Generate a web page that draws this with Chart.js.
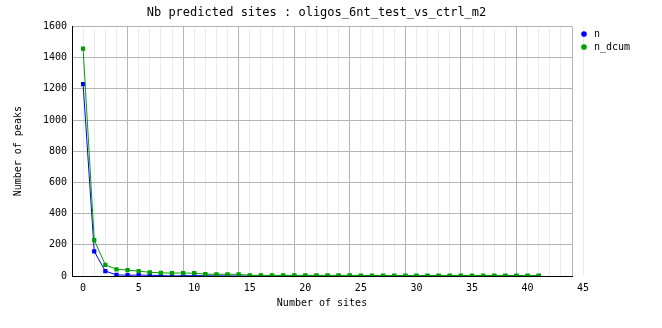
<!DOCTYPE html>
<html>
<head>
<meta charset="utf-8">
<script src="https://cdn.jsdelivr.net/npm/chart.js@4/dist/chart.umd.min.js"></script>
<style>
  html, body { margin: 0; padding: 0; background: #fff; }
  #wrap { width: 662px; height: 328px; }
</style>
</head>
<body>
<div id="wrap"><canvas id="sitesChart" width="662" height="328"></canvas></div>
<script>
// Nb predicted sites chart

// Data
const sites = Array.from({ length: 42 }, (_, i) => i); // 0..41
const nValues = [1230, 158, 32, 7, 5, 6, 5, 3, 0, 2, 2, 2, 1, 1, 0, 0, 0, 0, 0, 0,
  0, 0, 0, 0, 0, 0, 0, 0, 0, 0, 0, 0, 0, 0, 0, 0, 0, 0, 0, 0, 0, 0];
const nDcumValues = [1457, 230, 72, 43, 38, 31, 24, 20, 19, 19, 18, 12, 11, 11, 11, 4, 4, 4, 4, 4,
  4, 4, 4, 4, 4, 3, 3, 3, 3, 3, 3, 3, 3, 3, 3, 3, 3, 3, 3, 3, 3, 3];
const xTickLabels = [0, 5, 10, 15, 20, 25, 30, 35, 40, 45];
const yTicks = [0, 200, 400, 600, 800, 1000, 1200, 1400, 1600];

const FONT = 'DejaVu Sans Mono';
const MAJOR = '#b4b4b4';
const MINOR = '#ececec';

const ctx = document.getElementById('sitesChart').getContext('2d');

new Chart(ctx, {
  type: 'line',
  data: {
    datasets: [
      {
        label: 'n',
        data: sites.map((x, i) => ({ x, y: nValues[i] })),
        borderColor: '#0000ff',
        backgroundColor: '#0000ff',
        borderWidth: 1,
        pointStyle: 'rect',
        pointRadius: 3,
        pointBorderWidth: 0,
        tension: 0,
        order: 2
      },
      {
        label: 'n_dcum',
        data: sites.map((x, i) => ({ x, y: nDcumValues[i] })),
        borderColor: '#00a000',
        backgroundColor: '#00a000',
        borderWidth: 1,
        pointStyle: 'rect',
        pointRadius: 3,
        pointBorderWidth: 0,
        tension: 0,
        order: 1
      }
    ]
  },
  options: {
    responsive: false,
    animation: false,
    layout: { padding: { top: 0, right: 29, bottom: 0, left: 0 } },
    plugins: {
      title: {
        display: true,
        text: 'Nb predicted sites : oligos_6nt_test_vs_ctrl_m2',
        color: '#000',
        font: { family: FONT, size: 12, weight: 'normal' },
        padding: { top: 6, bottom: 6 }
      },
      legend: {
        position: 'right',
        align: 'start',
        maxWidth: 57,
        title: {
          display: true,
          text: ' ',
          font: { family: FONT, size: 10 },
          padding: { top: 14, bottom: 0 }
        },
        labels: {
          usePointStyle: true,
          pointStyle: 'circle',
          boxWidth: 10,
          boxHeight: 4,
          padding: 3,
          color: '#000',
          font: { family: FONT, size: 10 },
          sort: (a, b) => a.datasetIndex - b.datasetIndex
        }
      },
      tooltip: { enabled: false }
    },
    scales: {
      x: {
        type: 'linear',
        min: -1,
        max: 44,
        afterBuildTicks: (scale) => {
          const ticks = [];
          for (let v = -1; v <= 44; v++) ticks.push({ value: v });
          ticks.push({ value: 45 });
          scale.ticks = ticks;
        },
        afterFit: (scale) => { scale.height = 52; },
        ticks: {
          autoSkip: false,
          maxRotation: 0,
          padding: 6,
          color: '#000',
          font: { family: FONT, size: 10 },
          callback: (v) => xTickLabels.includes(v) ? String(v) : ''
        },
        grid: {
          drawTicks: false,
          color: (c) => ((c.tick.value + 1) % 5 === 0 ? MAJOR : MINOR),
          lineWidth: 1
        },
        border: { color: '#000', width: 1 },
        title: {
          display: true,
          text: 'Number of sites',
          color: '#000',
          font: { family: FONT, size: 10 },
          padding: { top: 0, bottom: 19 }
        }
      },
      y: {
        min: 0,
        max: 1600,
        afterBuildTicks: (scale) => { scale.ticks = yTicks.map(v => ({ value: v })); },
        afterFit: (scale) => { scale.width = 72; },
        ticks: {
          padding: 5,
          color: '#000',
          font: { family: FONT, size: 10 },
          callback: (v) => String(v)
        },
        grid: { drawTicks: false, color: MAJOR, lineWidth: 1 },
        border: { color: '#000', width: 1 },
        title: {
          display: true,
          text: 'Number of peaks',
          color: '#000',
          font: { family: FONT, size: 10 },
          padding: { top: 12, bottom: 0 }
        }
      },
      // empty spacer between plot and legend
      gap: {
        type: 'linear',
        position: 'right',
        display: true,
        afterFit: (scale) => { scale.width = 4; },
        ticks: { display: false },
        grid: { display: false, drawTicks: false },
        border: { display: false }
      }
    }
  }
});
</script>
</body>
</html>
